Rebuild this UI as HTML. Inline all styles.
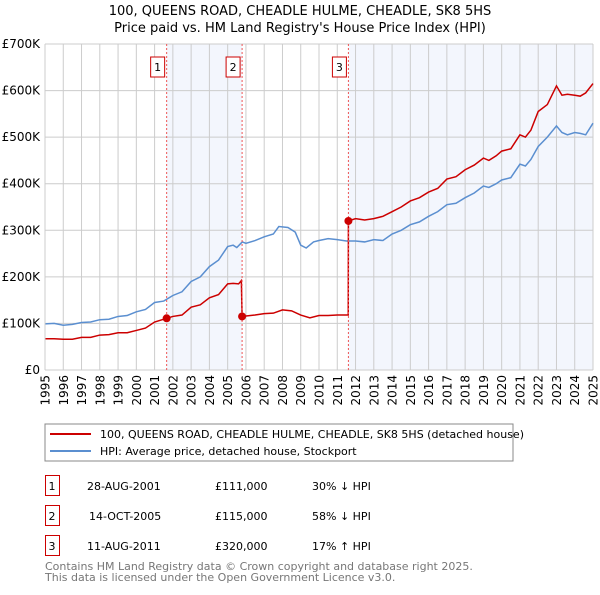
<!DOCTYPE html>
<html><head><meta charset="utf-8"><style>
body{margin:0;background:#fff;font-family:"Liberation Sans","DejaVu Sans",sans-serif;}
svg text{font-family:"DejaVu Sans","Liberation Sans",sans-serif;}
</style></head><body>
<svg id="c" width="600" height="590" viewBox="0 0 600 590" xmlns="http://www.w3.org/2000/svg">
<text x="300" y="15" text-anchor="middle" font-size="13">100, QUEENS ROAD, CHEADLE HULME, CHEADLE, SK8 5HS</text>
<text x="300" y="32" text-anchor="middle" font-size="13">Price paid vs. HM Land Registry's House Price Index (HPI)</text>
<g id="plot"></g>
<rect x="45" y="424" width="468" height="37" fill="#fff" stroke="#888"/>
<line x1="50" y1="434" x2="91" y2="434" stroke="#cc0000" stroke-width="2"/>
<text x="100" y="438" font-size="11">100, QUEENS ROAD, CHEADLE HULME, CHEADLE, SK8 5HS (detached house)</text>
<line x1="50" y1="451" x2="91" y2="451" stroke="#5b8fd0" stroke-width="2"/>
<text x="100" y="455" font-size="11">HPI: Average price, detached house, Stockport</text>
<g font-size="11">
<rect x="45.5" y="475.5" width="14" height="20" fill="none" stroke="#c00"/><text x="52" y="490" text-anchor="middle">1</text>
<text x="87" y="490">28-AUG-2001</text><text x="215" y="490">£111,000</text><text x="312" y="490">30% ↓ HPI</text>
<rect x="45.5" y="505.5" width="14" height="20" fill="none" stroke="#c00"/><text x="52" y="520" text-anchor="middle">2</text>
<text x="89" y="520">14-OCT-2005</text><text x="215" y="520">£115,000</text><text x="312" y="520">58% ↓ HPI</text>
<rect x="45.5" y="535.5" width="14" height="20" fill="none" stroke="#c00"/><text x="52" y="550" text-anchor="middle">3</text>
<text x="87" y="550">11-AUG-2011</text><text x="215" y="550">£320,000</text><text x="312" y="550">17% ↑ HPI</text>
</g>
<text x="45" y="570" font-size="11" fill="#777">Contains HM Land Registry data © Crown copyright and database right 2025.</text>
<text x="45" y="581" font-size="11" fill="#777">This data is licensed under the Open Government Licence v3.0.</text>
</svg>
<script>
const yTicks=[0,100,200,300,400,500,600,700];
const yTickLabels=["£0","£100K","£200K","£300K","£400K","£500K","£600K","£700K"];
const xYears=[1995,1996,1997,1998,1999,2000,2001,2002,2003,2004,2005,2006,2007,2008,2009,2010,2011,2012,2013,2014,2015,2016,2017,2018,2019,2020,2021,2022,2023,2024,2025];
const hpiT=[1995,1995.5,1996,1996.5,1997,1997.5,1998,1998.5,1999,1999.5,2000,2000.5,2001,2001.5,2002,2002.5,2003,2003.5,2004,2004.5,2005,2005.3,2005.5,2005.8,2006,2006.5,2007,2007.5,2007.8,2008.3,2008.7,2009,2009.3,2009.7,2010,2010.5,2011,2011.5,2012,2012.5,2013,2013.5,2014,2014.5,2015,2015.5,2016,2016.5,2017,2017.5,2018,2018.5,2019,2019.3,2019.7,2020,2020.5,2021,2021.3,2021.6,2022,2022.5,2023,2023.3,2023.6,2024,2024.3,2024.6,2025];
const hpiV=[99,100,96,98,102,103,108,109,115,117,125,130,145,148,160,168,190,200,222,236,265,268,263,275,272,278,286,292,308,306,296,268,262,275,278,282,280,277,277,275,280,278,292,300,312,318,330,340,355,358,370,380,395,392,400,408,413,442,438,452,480,500,524,510,505,510,508,505,530];
const redT=[1995,1995.5,1996,1996.5,1997,1997.5,1998,1998.5,1999,1999.5,2000,2000.5,2001,2001.66,2002,2002.5,2003,2003.5,2004,2004.5,2005,2005.3,2005.6,2005.75,2005.79,2006,2006.5,2007,2007.5,2008,2008.5,2009,2009.5,2010,2010.5,2011,2011.6,2011.61,2012,2012.5,2013,2013.5,2014,2014.5,2015,2015.5,2016,2016.5,2017,2017.5,2018,2018.5,2019,2019.3,2019.7,2020,2020.5,2021,2021.3,2021.6,2022,2022.5,2023,2023.3,2023.6,2024,2024.3,2024.6,2025];
const redV=[67,67,66,66,70,70,75,76,80,80,85,90,103,111,115,118,135,140,155,162,185,186,185,192,115,116,118,121,122,129,127,118,112,117,117,118,118,320,325,322,325,330,340,350,363,370,382,390,410,415,430,440,455,450,460,470,475,505,500,515,555,570,610,590,592,590,588,595,615];
const sales=[{t:2001.66,v:111},{t:2005.79,v:115},{t:2011.61,v:320}];
const X0=45,X1=593,Y0=370,YT=44;
const xs=t=>X0+(t-1995)/(2025-1995)*(X1-X0);
const ys=v=>Y0-v/700*(Y0-YT);
const NS="http://www.w3.org/2000/svg",g=document.getElementById('plot');
function mk(tag,a){const e=document.createElementNS(NS,tag);for(const k in a)e.setAttribute(k,a[k]);g.appendChild(e);return e;}
let e=mk('rect',{x:xs(sales[0].t),y:YT,width:xs(sales[1].t)-xs(sales[0].t),height:Y0-YT,fill:'#f3f6fd'});


e=mk('rect',{x:xs(sales[2].t),y:YT,width:X1-xs(sales[2].t),height:Y0-YT,fill:'#f3f6fd'});


xYears.forEach(y=>{const l=mk('line',{x1:xs(y),x2:xs(y),y1:YT,y2:Y0,stroke:'#ccc'});


const t=mk('text',{x:0,y:0,'font-size':12,'text-anchor':'end',transform:`translate(${xs(y)+4.5},${Y0+5}) rotate(-90)`});t.textContent=y;

});
yTicks.forEach((v,i)=>{const l=mk('line',{x1:X0,x2:X1,y1:ys(v),y2:ys(v),stroke:'#ccc'});


const t=mk('text',{x:40,y:ys(v)+4,'font-size':12,'text-anchor':'end'});t.textContent=yTickLabels[i];

});
function line(T,V,c,n){const p=mk('polyline',{points:T.map((t,i)=>xs(t)+','+ys(V[i])).join(' '),fill:'none',stroke:c,'stroke-width':1.5});

}
line(hpiT,hpiV,'#5b8fd0','hpi-line');
line(redT,redV,'#cc0000','property-line');
sales.forEach((s,i)=>{const l=mk('line',{x1:xs(s.t),x2:xs(s.t),y1:YT,y2:Y0,stroke:'#e55','stroke-dasharray':'2,2'});


const c=mk('circle',{cx:xs(s.t),cy:ys(s.v),r:4,fill:'#cc0000'});


const r=mk('rect',{x:xs(s.t)-16,y:57,width:14,height:20,fill:'#fff',stroke:'#c00'});


const t=mk('text',{x:xs(s.t)-9,y:71,'font-size':11,'text-anchor':'middle'});t.textContent=i+1;

});
const a=mk('line',{x1:X0,x2:X0,y1:YT,y2:Y0,stroke:'#ccc'});


</script>
</body></html>
